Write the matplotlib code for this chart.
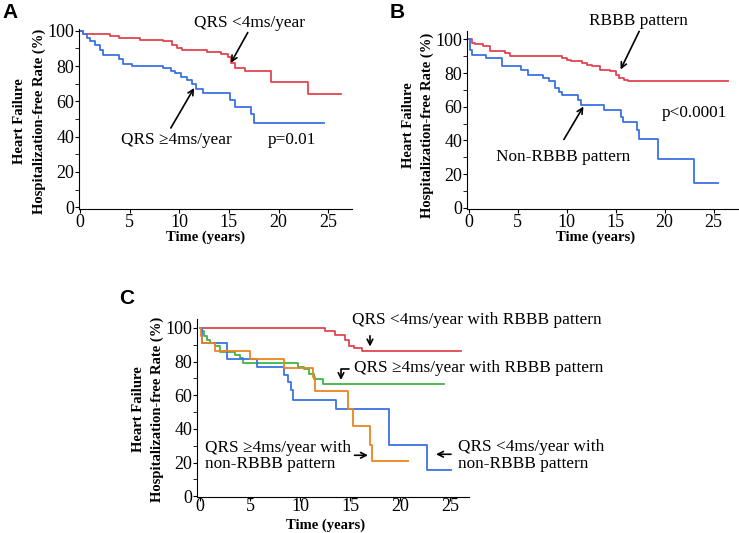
import matplotlib
matplotlib.use('Agg')
from matplotlib import pyplot as plt

# panel A: QRS prolongation rate
a_slow_t = [0, 0.3, 3.0, 3.9, 6.0, 8.4, 9.3, 9.8, 10.3, 12.8, 14.2, 14.9, 15.2, 15.6, 16.6, 19.2, 23.0, 26.3]
a_slow_s = [100, 98, 97, 96, 95, 94, 92, 90, 89, 88, 87, 85, 82, 79, 77, 71, 64, 64]
a_fast_t = [0, 0.3, 0.7, 1.0, 1.5, 2.0, 2.3, 3.9, 4.3, 5.2, 8.4, 9.2, 9.6, 10.2, 10.8, 11.3, 11.7, 12.4, 15.1, 15.6, 17.2, 17.5, 24.6]
a_fast_s = [100, 98, 96, 94, 92, 89, 86, 84, 81, 80, 79, 77, 76, 74, 72, 70, 67, 65, 61, 57, 53, 48, 48]

# panel B: RBBB vs non-RBBB
b_rbbb_t = [0, 0.3, 0.6, 1.4, 2.2, 3.7, 4.2, 9.5, 10.0, 10.4, 11.6, 12.1, 12.6, 13.4, 14.4, 15.0, 15.3, 15.8, 16.3, 26.5]
b_rbbb_s = [100, 98, 97, 96, 93, 92, 90, 89, 88, 87, 86, 85, 84, 82, 81, 79, 77, 76, 75, 75]
b_non_t = [0, 0.1, 0.3, 1.7, 3.4, 5.3, 6.0, 7.6, 8.2, 8.8, 9.2, 9.5, 11.1, 11.5, 13.8, 15.5, 15.7, 17.2, 17.4, 19.3, 23.0, 25.5]
b_non_s = [100, 94, 91, 89, 84, 82, 79, 77, 75, 71, 69, 67, 64, 61, 58, 54, 51, 46, 41, 29, 14.5, 14.5]

# panel C: four subgroups
c_slow_rbbb_t = [0, 12.5, 13.5, 14.5, 14.9, 15.4, 16.2, 26.1]
c_slow_rbbb_s = [100, 98, 96, 93, 89, 88, 86.4, 86.4]
c_fast_rbbb_t = [0, 0.2, 0.4, 0.7, 1.0, 1.5, 2.0, 3.5, 4.0, 4.3, 9.8, 10.4, 10.9, 11.4, 12.3, 24.4]
c_fast_rbbb_s = [100, 98, 95, 93, 91, 89, 85.5, 84, 82, 79.3, 77, 75.5, 72.5, 69.5, 66.6, 66.6]
c_slow_non_t = [0, 0.2, 2.7, 5.7, 8.4, 8.8, 9.1, 9.3, 13.6, 18.9, 22.7, 25.1]
c_slow_non_s = [100, 91, 81.6, 77, 72, 68, 63, 57.3, 52, 30.7, 15.5, 15.5]
c_fast_non_t = [0, 0.1, 0.2, 1.5, 5.0, 8.4, 11.3, 11.5, 14.8, 15.3, 17.0, 17.2, 20.8]
c_fast_non_s = [100, 95, 91, 86.4, 81.6, 76, 71, 62.7, 52, 41.6, 30.4, 20.7, 20.7]

red = '#e2444f'
blue = '#3a72e4'
green = '#3fb447'
orange = '#ea8420'

W, H = 739, 533
serif = ['Liberation Serif', 'DejaVu Serif']
sans = ['Liberation Sans', 'DejaVu Sans']
fs_note = 12.4
fs_lab = 10.5
fig = plt.figure(figsize=(W / 100, H / 100), dpi=100)


def add_axes(l, r, t, b):
    return fig.add_axes([l / W, 1 - b / H, (r - l) / W, (b - t) / H])


def style(ax, xlim, ylim, xpad=0.5):
    ax.set_xlim(*xlim)
    ax.set_ylim(*ylim)
    ax.spines['top'].set_visible(False)
    ax.spines['right'].set_visible(False)
    ax.set_xticks([0, 5, 10, 15, 20, 25])
    ax.set_yticks([0, 20, 40, 60, 80, 100])
    ax.set_yticks([10, 30, 50, 70, 90], minor=True)
    ax.tick_params(axis='both', which='major', length=3, pad=0.5, labelsize=13)
    ax.tick_params(axis='x', which='major', pad=xpad)
    ax.tick_params(axis='y', which='minor', length=3)
    for lab in ax.get_xticklabels() + ax.get_yticklabels():
        lab.set_family(serif)


def labels(ax_left, ycenter, xcenter, xlab_y):
    fig.text((ax_left - 59) / W, 1 - ycenter / H, 'Heart Failure', rotation=90,
             ha='center', va='center', fontsize=fs_lab, fontweight='bold', family=serif)
    fig.text((ax_left - 40) / W, 1 - ycenter / H, 'Hospitalization-free Rate (%)', rotation=90,
             ha='center', va='center', fontsize=fs_lab, fontweight='bold', family=serif)
    fig.text(xcenter / W, 1 - xlab_y / H, 'Time (years)', ha='center', va='center',
             fontsize=fs_lab, fontweight='bold', family=serif)


def arrow(ax, head, tail, cs=None):
    props = dict(arrowstyle='->', color='black', lw=1.2, shrinkA=0, shrinkB=0)
    if cs:
        props['connectionstyle'] = cs
    ax.annotate('', xy=head, xytext=tail, arrowprops=props, annotation_clip=False)


def note(ax, x, y, txt, ha='center'):
    ax.text(x, y, txt, ha=ha, va='center', fontsize=fs_note, family=serif,
            linespacing=1.05, clip_on=False)


# ---- A
axA = add_axes(79, 352, 29, 209)
axA.step(a_slow_t, a_slow_s, where='post', color=red, lw=1.3)
axA.step(a_fast_t, a_fast_s, where='post', color=blue, lw=1.3)
style(axA, (-0.1, 27.4), (-1, 101))
note(axA, 17.1, 104.5, 'QRS <4ms/year')
arrow(axA, (15.2, 81.8), (16.9, 99))
note(axA, 9.7, 38, 'QRS \u22654ms/year')
arrow(axA, (11.5, 67.6), (9.15, 44.9))
note(axA, 21.3, 38, 'p=0.01')
labels(79, 121, 206, 237)
fig.text(2 / W, 1 - 12 / H, 'A', fontsize=15, fontweight='bold', family=sans, ha='left', va='center')

# ---- B
axB = add_axes(467, 738, 31, 209)
axB.step(b_rbbb_t, b_rbbb_s, where='post', color=red, lw=1.3)
axB.step(b_non_t, b_non_s, where='post', color=blue, lw=1.3)
style(axB, (-0.2, 27.5), (-0.8, 105))
note(axB, 17.3, 110.7, 'RBBB pattern')
arrow(axB, (15.5, 82.1), (17.4, 104.8))
note(axB, 9.6, 30.4, 'Non-RBBB pattern')
arrow(axB, (11.7, 60.1), (9.7, 40.5))
note(axB, 23.0, 56.5, 'p<0.0001')
labels(467, 125, 596, 237)
fig.text(390 / W, 1 - 12 / H, 'B', fontsize=15, fontweight='bold', family=sans, ha='left', va='center')

# ---- C
axC = add_axes(197, 469, 319, 497)
axC.step(c_slow_rbbb_t, c_slow_rbbb_s, where='post', color=red, lw=1.3)
axC.step(c_fast_rbbb_t, c_fast_rbbb_s, where='post', color=green, lw=1.3)
axC.step(c_slow_non_t, c_slow_non_s, where='post', color=blue, lw=1.3)
axC.step(c_fast_non_t, c_fast_non_s, where='post', color=orange, lw=1.3)
style(axC, (-0.3, 26.9), (-0.5, 105.3), xpad=-2)
note(axC, 15.2, 104.7, 'QRS <4ms/year with RBBB pattern', ha='left')
arrow(axC, (17.0, 88.9), (17.0, 95.3))
note(axC, 15.45, 76, 'QRS \u22654ms/year with RBBB pattern', ha='left')
arrow(axC, (14.1, 69), (14.9, 75.7), cs='angle,angleA=0,angleB=90,rad=0')
note(axC, 0.5, 23.8, 'QRS \u22654ms/year with\nnon-RBBB pattern', ha='left')
arrow(axC, (16.8, 24.3), (15.45, 24.3))
note(axC, 25.8, 24.0, 'QRS <4ms/year with\nnon-RBBB pattern', ha='left')
arrow(axC, (23.6, 24.9), (25.1, 24.9))
labels(197, 409, 326, 525)
fig.text(119 / W, 1 - 299 / H, 'C', fontsize=15, fontweight='bold', family=sans, ha='left', va='center')

fig.savefig('out.png', dpi=100)
